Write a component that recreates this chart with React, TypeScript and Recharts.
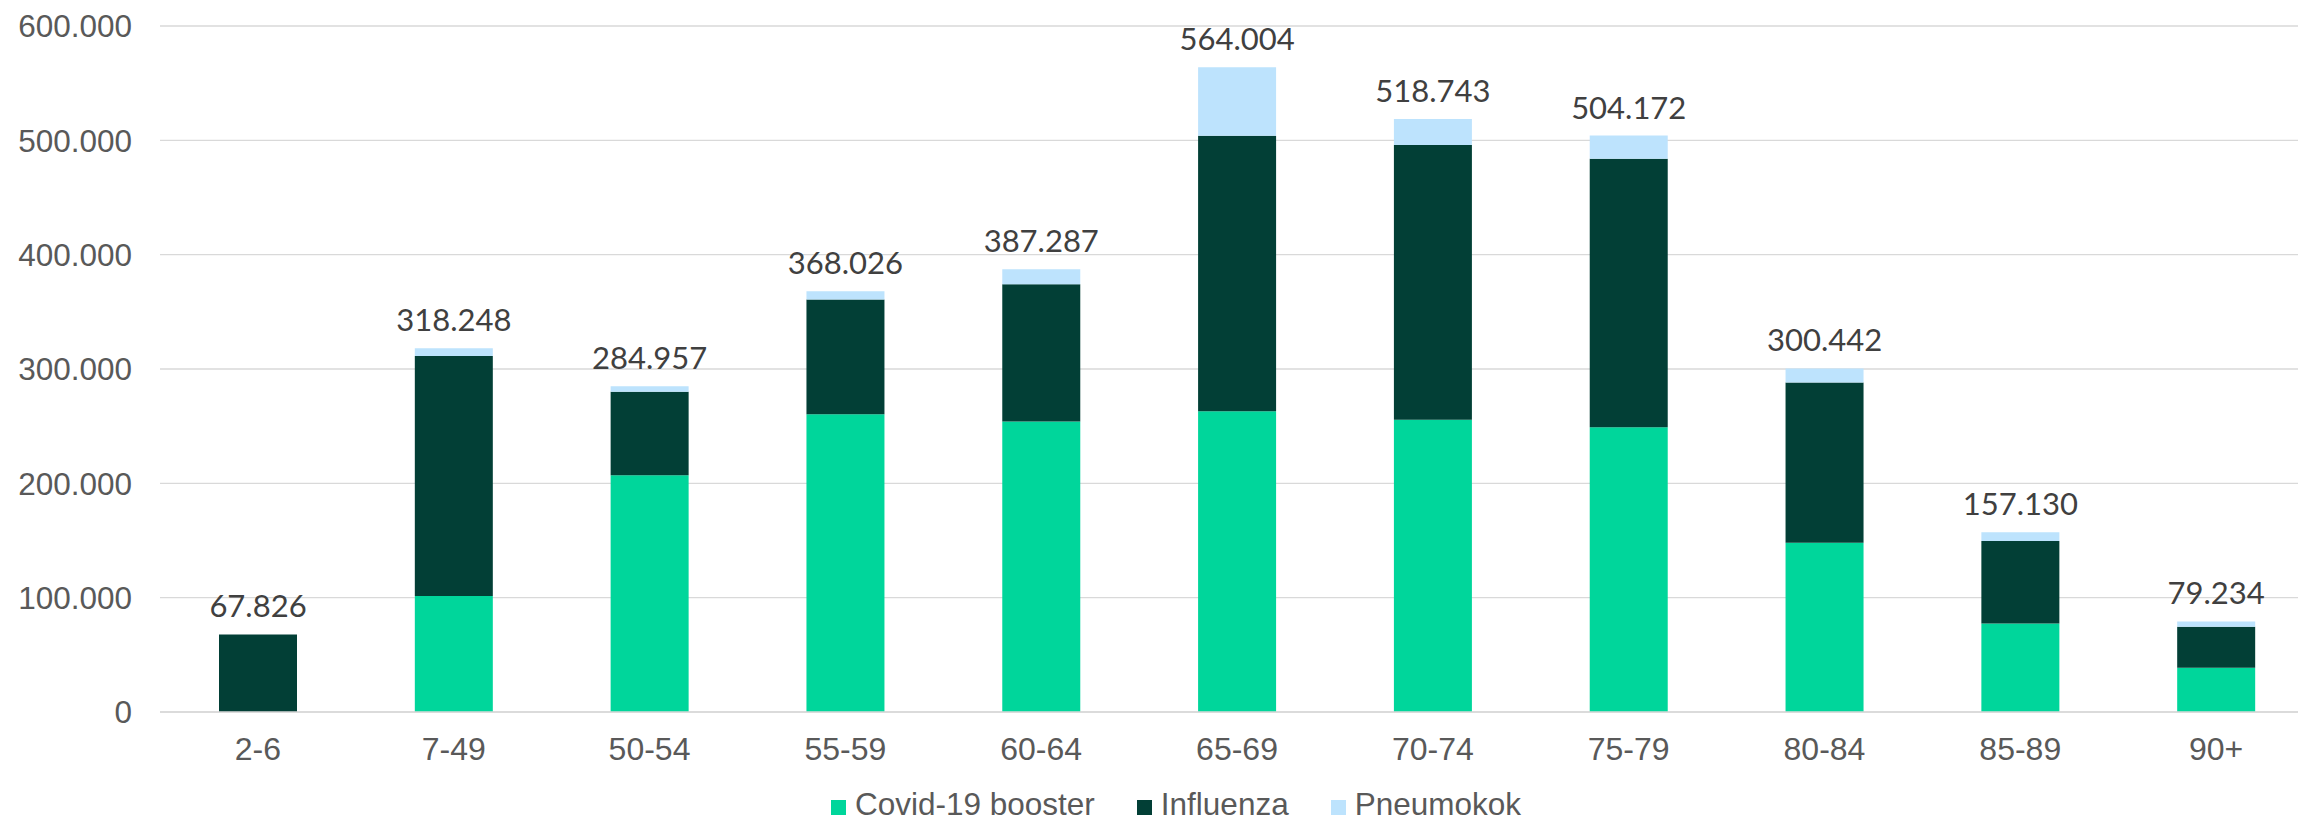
import { BarChart, Bar, XAxis, YAxis, CartesianGrid, Legend, LabelList } from 'recharts';

const ageGroups = ['2-6', '7-49', '50-54', '55-59', '60-64', '65-69', '70-74', '75-79', '80-84', '85-89', '90+'];
const covidBooster = [0, 101500, 207000, 260500, 254000, 263000, 255700, 249000, 148000, 77500, 38800];
const influenza = [67826, 209900, 73200, 100300, 120100, 241000, 240200, 235000, 140300, 72100, 35800];
const pneumokok = [0, 6848, 4757, 7226, 13187, 60004, 22843, 20172, 12142, 7530, 4634];
const totals = [67826, 318248, 284957, 368026, 387287, 564004, 518743, 504172, 300442, 157130, 79234];
const yTicks = [0, 100000, 200000, 300000, 400000, 500000, 600000];

const series = [
  { key: 'covid', name: 'Covid-19 booster', color: '#00d69b' },
  { key: 'influenza', name: 'Influenza', color: '#023f36' },
  { key: 'pneumokok', name: 'Pneumokok', color: '#bde3fd' },
];

const data = ageGroups.map((age, i) => ({
  age,
  covid: covidBooster[i],
  influenza: influenza[i],
  pneumokok: pneumokok[i],
  total: totals[i],
}));

// 600000 -> "600.000"
const fmt = (v: number) => String(Math.round(v)).replace(/\B(?=(\d{3})+(?!\d))/g, '.');

const axisFont = "Arial, 'Liberation Sans', sans-serif";

// total sits on the top segment; where there is no pneumokok the influenza bar is the top.
// LabelList may skip zero entries, so find the row by its total rather than by index.
const totalLabel = (onPneumo: boolean) => (props: any) => {
  const { x, y, width, value } = props;
  const row = totals.indexOf(Number(value));
  const hasPneumo = row >= 0 && pneumokok[row] > 0;
  if (hasPneumo !== onPneumo) return null;
  return (
    <text
      x={Number(x) + Number(width) / 2}
      y={Number(y) - 17}
      textAnchor="middle"
      fill="#404040"
      fontSize={31}
      fontFamily="Lato, 'Open Sans', sans-serif"
    >
      {fmt(Number(value))}
    </text>
  );
};

function LegendRow() {
  return (
    <div style={{ display: 'flex', justifyContent: 'center', alignItems: 'flex-end', height: 38, gap: 42 }}>
      {series.map((s) => (
        <div key={s.key} style={{ display: 'flex', alignItems: 'center' }}>
          <span style={{ width: 15, height: 15, background: s.color, marginRight: 9, marginTop: 6, display: 'inline-block' }} />
          <span style={{ fontFamily: axisFont, fontSize: 31.5, color: '#595959' }}>{s.name}</span>
        </div>
      ))}
    </div>
  );
}

export default function App() {
  return (
    <div style={{ position: 'fixed', left: 0, top: 0, width: 2298, height: 823, overflow: 'hidden', background: '#fff' }}>
      <BarChart width={2314} height={823} data={data} margin={{ top: 26, right: 0, left: 0, bottom: 0 }}>
        <CartesianGrid vertical={false} stroke="#d9d9d9" strokeWidth={1.3} />
        <XAxis
          dataKey="age"
          height={73}
          tickLine={false}
          tickMargin={19}
          axisLine={{ stroke: '#d9d9d9', strokeWidth: 1.3 }}
          tick={{ fill: '#595959', fontSize: 32, fontFamily: axisFont }}
          interval={0}
        />
        <YAxis
          width={160}
          domain={[0, 600000]}
          ticks={yTicks}
          tickFormatter={fmt}
          axisLine={false}
          tickLine={false}
          tickMargin={22}
          tick={{ fill: '#595959', fontSize: 31.5, fontFamily: axisFont }}
        />
        <Legend verticalAlign="bottom" content={() => <LegendRow />} wrapperStyle={{ left: 54, width: 2244, height: 38 }} />
        <Bar dataKey="covid" name="Covid-19 booster" stackId="a" fill="#00d69b" barSize={78} isAnimationActive={false} />
        <Bar dataKey="influenza" name="Influenza" stackId="a" fill="#023f36" barSize={78} isAnimationActive={false}>
          <LabelList dataKey="total" content={totalLabel(false)} />
        </Bar>
        <Bar dataKey="pneumokok" name="Pneumokok" stackId="a" fill="#bde3fd" barSize={78} isAnimationActive={false}>
          <LabelList dataKey="total" content={totalLabel(true)} />
        </Bar>
      </BarChart>
    </div>
  );
}
